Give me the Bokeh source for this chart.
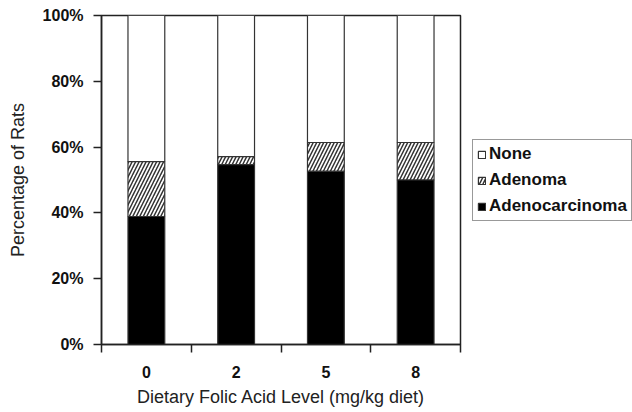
from bokeh.plotting import figure
from bokeh.models import (FixedTicker, PrintfTickFormatter, Legend, LegendItem,
                          ColumnDataSource, Range1d)
from bokeh.embed import file_html
from bokeh.resources import INLINE

categories = ["0", "2", "5", "8"]
adenocarcinoma = [38.9, 54.7, 52.6, 50.0]
adenoma = [16.7, 2.4, 8.8, 11.4]
none = [100 - a - b for a, b in zip(adenocarcinoma, adenoma)]
y_ticks = [0, 20, 40, 60, 80, 100]

xpos = [i + 0.5 for i in range(len(categories))]
src = ColumnDataSource(dict(
    x=xpos,
    adc=adenocarcinoma,
    ad_top=[a + b for a, b in zip(adenocarcinoma, adenoma)],
    top=[a + b + c for a, b, c in zip(adenocarcinoma, adenoma, none)],
))

FONT = "Liberation Sans"

p = figure(frame_width=359, frame_height=329, output_backend="svg",
           toolbar_location=None,
           x_range=Range1d(0, len(categories)), y_range=Range1d(0, 100),
           min_border_left=101, min_border_right=172, min_border_top=15,
           min_border_bottom=68)
p.background_fill_color = "white"
p.border_fill_color = "white"
p.outline_line_color = "#222222"
p.outline_line_width = 1.5
p.xgrid.visible = False
p.ygrid.visible = False

W = 0.41
r_none = p.vbar(x="x", bottom="ad_top", top="top", width=W, source=src,
                fill_color="white", line_color="#333333", line_width=1.2)
r_ad = p.vbar(x="x", bottom="adc", top="ad_top", width=W, source=src,
              fill_color="white", line_color="#333333", line_width=1.2,
              hatch_pattern="/", hatch_color="#333333", hatch_scale=7,
              hatch_weight=1.5)
r_adc = p.vbar(x="x", bottom=0, top="adc", width=W, source=src,
               fill_color="black", line_color="#333333", line_width=1.2)

# x axis
xa = p.xaxis[0]
xa.ticker = FixedTicker(ticks=xpos, minor_ticks=list(range(len(categories) + 1)))
xa.major_label_overrides = {x: c for x, c in zip(xpos, categories)}
xa.major_tick_out = 0
xa.major_tick_in = 0
xa.minor_tick_out = 8
xa.minor_tick_in = 0
xa.minor_tick_line_color = "#222222"
xa.minor_tick_line_width = 1.5
xa.axis_line_color = "#222222"
xa.axis_line_width = 1.5
xa.major_label_standoff = 13
xa.major_label_text_font = FONT
xa.major_label_text_font_style = "bold"
xa.major_label_text_font_size = "16px"
xa.major_label_text_color = "#111111"
xa.axis_label = "Dietary Folic Acid Level (mg/kg diet)"
xa.axis_label_text_font = FONT
xa.axis_label_text_font_style = "normal"
xa.axis_label_text_font_size = "18px"
xa.axis_label_text_color = "#222222"
xa.axis_label_standoff = 6

# y axis
ya = p.yaxis[0]
ya.ticker = FixedTicker(ticks=y_ticks, minor_ticks=[])
ya.formatter = PrintfTickFormatter(format="%d%%")
ya.major_tick_out = 8
ya.major_tick_in = 0
ya.major_tick_line_color = "#222222"
ya.major_tick_line_width = 1.5
ya.axis_line_color = "#222222"
ya.axis_line_width = 1.5
ya.major_label_standoff = 10
ya.major_label_text_font = FONT
ya.major_label_text_font_style = "bold"
ya.major_label_text_font_size = "16px"
ya.major_label_text_color = "#111111"
ya.axis_label = "Percentage of Rats"
ya.axis_label_text_font = FONT
ya.axis_label_text_font_style = "normal"
ya.axis_label_text_font_size = "18px"
ya.axis_label_text_color = "#222222"
ya.axis_label_standoff = 12

legend = Legend(items=[
    LegendItem(label="None", renderers=[r_none]),
    LegendItem(label="Adenoma", renderers=[r_ad]),
    LegendItem(label="Adenocarcinoma", renderers=[r_adc]),
], location=(12, 123))
legend.margin = 0
legend.padding = 4
legend.spacing = 6
legend.label_height = 19
legend.glyph_width = 9
legend.glyph_height = 9
legend.label_standoff = 3
legend.label_text_font = FONT
legend.label_text_font_style = "bold"
legend.label_text_font_size = "17px"
legend.label_text_color = "#111111"
legend.border_line_color = "#333333"
legend.border_line_width = 1
legend.background_fill_color = "white"
legend.background_fill_alpha = 1
p.add_layout(legend, "right")

open("out.html", "w").write(file_html(p, INLINE))
